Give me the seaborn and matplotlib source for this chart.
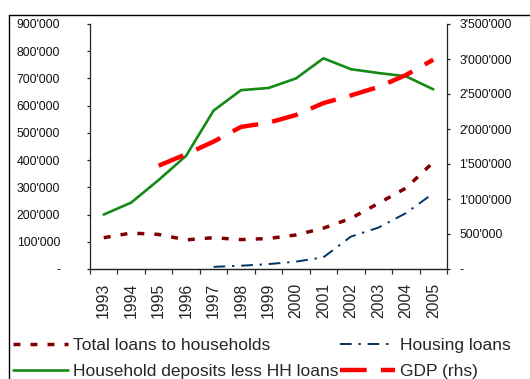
import numpy as np
import pandas as pd
import matplotlib
matplotlib.use("Agg")
import matplotlib.pyplot as plt
from matplotlib.lines import Line2D
from matplotlib.ticker import FuncFormatter, FixedLocator
import seaborn as sns

years = [1993, 1994, 1995, 1996, 1997, 1998, 1999, 2000, 2001, 2002, 2003, 2004, 2005]
total_loans = [115000, 132000, 127000, 107000, 115000, 108000, 112000, 125000, 150000,
               186000, 241000, 297000, 392000]
housing_loans = [np.nan, np.nan, np.nan, np.nan, 8000, 12000, 18000, 27000, 43000,
                 119000, 152000, 205000, 278000]
deposits_less_loans = [200000, 244000, 327000, 416000, 582000, 657000, 665000, 700000,
                       774000, 734000, 720000, 708000, 660000]
gdp = [np.nan, np.nan, 1476000, 1640000, 1820000, 2030000, 2090000, 2200000, 2370000,
       2480000, 2600000, 2770000, 2990000]

labels = ["Total loans to households", "Household deposits less HH loans",
          "Housing loans", "GDP (rhs)"]

df = pd.DataFrame({
    "pos": np.arange(len(years)),
    "total": total_loans,
    "housing": housing_loans,
    "deposits": deposits_less_loans,
    "gdp": gdp,
})

sns.set_theme(style="white")
plt.rcParams["font.family"] = ["Liberation Sans", "DejaVu Sans"]

W, H = 530, 379
fig = plt.figure(figsize=(W / 100, H / 100), dpi=100)
ax = fig.add_axes([90 / W, 1 - 269 / H, (447 - 90) / W, (269 - 24) / H])
ax2 = ax.twinx()

MAROON = "#800000"
NAVY = "#003366"
GREEN = "#158a15"
RED = "#ff0000"

sns.lineplot(data=df, x="pos", y="total", ax=ax, color=MAROON, lw=2.5,
             linestyle=(0, (2.0, 2.9)))
sns.lineplot(data=df, x="pos", y="housing", ax=ax, color=NAVY, lw=1.4,
             linestyle=(0, (6, 3.5, 1.2, 3.5)))
sns.lineplot(data=df, x="pos", y="deposits", ax=ax, color=GREEN, lw=1.9)
sns.lineplot(data=df, x="pos", y="gdp", ax=ax2, color=RED, lw=3.2,
             linestyle=(0, (6.0, 3.2)))

ax.set_xlim(-0.5, len(years) - 0.5)
ax.set_ylim(0, 900000)
ax2.set_ylim(0, 3500000)
ax.set_xlabel("")
ax.set_ylabel("")
ax2.set_ylabel("")


def fmt(v, _):
    v = int(round(v))
    if v == 0:
        return "-"
    return f"{v:,}".replace(",", "'")


ax.yaxis.set_major_locator(FixedLocator(np.arange(0, 900001, 100000)))
ax2.yaxis.set_major_locator(FixedLocator(np.arange(0, 3500001, 500000)))
ax.yaxis.set_major_formatter(FuncFormatter(fmt))
ax2.yaxis.set_major_formatter(FuncFormatter(fmt))

ax.set_xticks(np.arange(len(years)))
ax.set_xticklabels([str(y) for y in years], rotation=90, fontsize=11.3)
ax.set_xticks(np.arange(-0.5, len(years)), minor=True)
ax.tick_params(axis="x", which="major", length=0, pad=10)
ax.tick_params(axis="x", which="minor", length=3.5, width=0.9, color="#333333",
               direction="out", bottom=True)

ax.tick_params(axis="y", which="major", left=True, length=2.5, width=0.9,
               color="#222222", pad=19, labelsize=8.8, labelcolor="#111111")
ax2.tick_params(axis="y", which="major", right=True, length=2.5, width=0.9,
                color="#222222", pad=6.5, labelsize=8.8, labelcolor="#111111")

for a in (ax, ax2):
    a.spines["top"].set_visible(False)
    for s in a.spines.values():
        s.set_color("#222222")
        s.set_linewidth(0.9)
ax2.spines["left"].set_visible(False)
ax.spines["right"].set_visible(False)
ax.spines["bottom"].set_color("#555555")

# outer frame lines along the top and left edges
fig.add_artist(Line2D([9 / W, 1.0], [1 - 15 / H, 1 - 15 / H], transform=fig.transFigure,
                      color="black", lw=1.0))
fig.add_artist(Line2D([9 / W, 9 / W], [0, 1 - 15 / H], transform=fig.transFigure,
                      color="black", lw=1.0))

handles = [
    Line2D([], [], color=MAROON, lw=2.5, linestyle=(0, (2.0, 2.9))),
    Line2D([], [], color=GREEN, lw=1.9),
    Line2D([], [], color=NAVY, lw=1.4, linestyle=(0, (6, 3.5, 1.2, 3.5))),
    Line2D([], [], color=RED, lw=3.2, linestyle=(0, (6.0, 3.2))),
]
fig.legend(handles, labels, ncol=2, loc="upper left",
           bbox_to_anchor=(13 / W, 1 - 338 / H), frameon=False, fontsize=12.5,
           handlelength=3.15, handletextpad=0.29, columnspacing=0.1,
           labelspacing=0.6, borderaxespad=0, borderpad=0)

fig.savefig("out.png", dpi=100)
